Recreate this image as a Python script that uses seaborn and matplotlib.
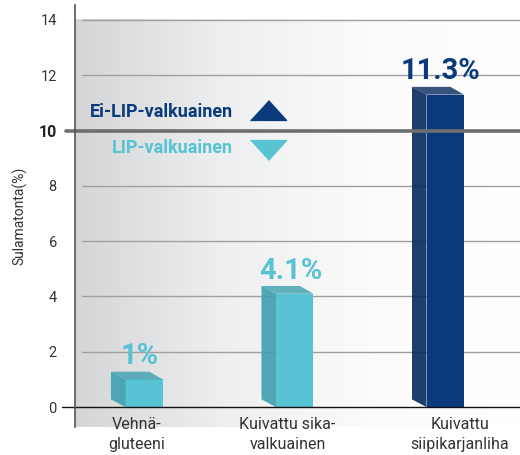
import numpy as np
import pandas as pd
import matplotlib
matplotlib.use("Agg")
import matplotlib.pyplot as plt
import matplotlib.transforms as mtransforms
from matplotlib.patches import Polygon
import seaborn as sns

# data
categories = ["Vehnä-\ngluteeni", "Kuivattu sika-\nvalkuainen", "Kuivattu\nsiipikarjanliha"]
values = [1.0, 4.1, 11.3]
value_labels = ["1%", "4.1%", "11.3%"]
groups = ["LIP", "LIP", "Ei-LIP"]
yticks = [0, 2, 4, 6, 8, 10, 12, 14]

CYAN = "#58c3d3"
CYAN_DARK = "#3d9fb0"
NAVY = "#0b3a7c"
NAVY_DARK = "#062a5e"
palette = {"LIP": CYAN, "Ei-LIP": NAVY}
side_col = {"LIP": CYAN_DARK, "Ei-LIP": NAVY_DARK}

sns.set_style("white")
plt.rcParams["font.family"] = ["Roboto", "DejaVu Sans"]

df = pd.DataFrame({"cat": categories, "val": values, "grp": groups})

fig = plt.figure(figsize=(5.2, 4.55), dpi=100)
ax = fig.add_axes([0.144, 0.0615, 0.856, 0.9275])
yx = ax.get_yaxis_transform()

# soft grey gradient on the left of the plot area
grad = np.linspace(0, 1, 256).reshape(1, -1)
ax.imshow(grad, cmap=sns.blend_palette(["#d4d5d7", "#eeeff0", "#fbfbfb", "#ffffff"], as_cmap=True),
          extent=[0, 1, -0.72, 14], transform=yx, aspect="auto", zorder=0)

sns.barplot(data=df, x="cat", y="val", hue="grp", palette=palette, width=0.345,
            dodge=False, legend=False, ax=ax, zorder=3, saturation=1, linewidth=0)

ax.set_xlim(-0.412, 2.545)
ax.set_ylim(-0.72, 14.54)

# pseudo 3d: darker left side and top face
depth = 0.28
bars = sorted(ax.patches, key=lambda p: p.get_x())
for p, v, g, lab in zip(bars, values, groups, value_labels):
    x0, w = p.get_x(), p.get_width()
    s = w * 0.28
    p.set_x(x0 + s)
    p.set_width(w - s)
    p.set_linewidth(0)
    side = Polygon([(x0, depth), (x0 + s, 0), (x0 + s, v), (x0, v + depth)],
                   closed=True, fc=side_col[g], ec="none", zorder=3, alpha=0.9)
    top = Polygon([(x0, v + depth), (x0 + w * 0.74, v + depth), (x0 + w, v), (x0 + s, v)],
                  closed=True, fc=side_col[g], ec="none", zorder=3, alpha=0.8)
    ax.add_patch(side)
    ax.add_patch(top)
    ax.annotate(lab, (x0 + w / 2 + 0.02, v + depth), xytext=(0, 1), textcoords="offset points",
                ha="center", va="bottom", fontsize=21, fontweight="bold",
                color=palette[g], zorder=5)

# gridlines
for t in yticks[1:]:
    if t == 10:
        continue
    ax.plot([0.015, 1], [t, t], transform=yx, color="#a0a0a0", lw=1, zorder=1)
ax.plot([-0.02, 1], [10, 10], transform=yx, color="#6d6e70", lw=2.6, zorder=4, clip_on=False)
ax.plot([-0.03, 1], [0, 0], transform=yx, color="#111111", lw=1, zorder=4, clip_on=False)

# legend drawn as text + triangles
tri_up = [(-1, -0.55), (1, -0.55), (0, 0.55)]
tri_dn = [(-1, 0.55), (1, 0.55), (0, -0.55)]
ax.text(0.355, 10.67, "Ei-LIP-valkuainen", transform=yx,
        ha="right", va="center", fontsize=13, fontweight="bold", color=NAVY, zorder=5)
ax.text(0.355, 9.37, "LIP-valkuainen", transform=yx,
        ha="right", va="center", fontsize=13, fontweight="bold", color=CYAN, zorder=5)
ax.plot([0.434], [10.75], marker=tri_up, ms=26, color=NAVY, transform=yx, zorder=5, clip_on=False)
ax.plot([0.434], [9.3], marker=tri_dn, ms=26, color=CYAN, transform=yx, zorder=5, clip_on=False)

ax.set_yticks(yticks)
ax.set_yticklabels([str(t) for t in yticks])
for lbl in ax.get_yticklabels():
    lbl.set_color("#333333")
    lbl.set_fontsize(10.5)
    if lbl.get_text() == "10":
        lbl.set_fontweight("bold")
        lbl.set_fontsize(11.5)
        lbl.set_color("#222222")
ax.tick_params(axis="y", length=0, pad=13)
ax.tick_params(axis="x", length=0, pad=-7, labelsize=11.5, labelcolor="#333333")
for lbl in ax.get_xticklabels():
    lbl.set_linespacing(1.4)
# last category label sits a bit right of its bar in the reference
last = ax.get_xticklabels()[-1]
last.set_transform(last.get_transform() + mtransforms.ScaledTranslation(0.22, 0, fig.dpi_scale_trans))
ax.set_xlabel("")
ax.set_ylabel("Sulamatonta(%)", fontsize=10, color="#333333", labelpad=8)

for side in ["top", "right", "bottom"]:
    ax.spines[side].set_visible(False)
ax.spines["left"].set_color("#555555")
ax.spines["left"].set_linewidth(1.2)
ax.spines["left"].set_zorder(5)

fig.savefig("out.png", dpi=100, facecolor="white")
